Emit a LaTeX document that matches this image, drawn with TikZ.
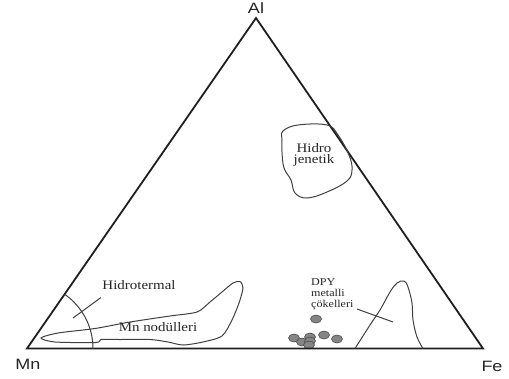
\documentclass[tikz,border=0pt]{standalone}
\usepackage{fontspec}
\usetikzlibrary{shapes.geometric}
\setmainfont{Liberation Serif}[FakeStretch=1.15]
\newfontfamily\vsans{Liberation Sans}[FakeStretch=1.2]
\begin{document}
\begin{tikzpicture}[x=1pt,y=-1pt,
  side/.style={draw=black!88,line width=1.8pt,line join=miter},
  field/.style={draw=black!75,line width=1pt},
  corner/.style={font=\vsans\fontsize{15}{15}\selectfont,text=black!85,inner sep=0pt},
  flabel/.style={font=\fontsize{13}{13}\selectfont,text=black!85,inner sep=0pt},
  dlabel/.style={font=\fontsize{10.5}{11}\selectfont,text=black!85,inner sep=0pt,align=left},
  dot/.style={ellipse,draw=black!70,fill=black!48,line width=0.6pt,minimum width=11pt,minimum height=8pt,inner sep=0pt}]
\useasboundingbox (0,0) rectangle (509,378);
\coordinate (A) at (256,18);
\coordinate (M) at (27,348.5);
\coordinate (F) at (483,348.5);
% dots (under the base line)
\node[dot] (d1) at (316,319) {};
\node[dot] (d2) at (294,338) {};
\node[dot] (d3) at (302,342) {};
\node[dot] (d4) at (310,337) {};
\node[dot] (d5) at (310,341) {};
\node[dot] (d6) at (309,345) {};
\node[dot] (d7) at (324,335) {};
\node[dot] (d8) at (337,339) {};
% triangle
\draw[side] (M) -- (A) -- (F) -- cycle;
\node[corner] (al) at (256,8) {Al};
\node[corner] (mn) at (28,364) {Mn};
\node[corner] (fe) at (492,366) {Fe};
% hydrogenetic field
\draw[field] plot[smooth cycle,tension=0.65] coordinates {
 (283,131) (298,125) (327,125) (338,135) (349,155) (352,170) (347,181)
 (327,192) (307,198) (295,193) (291,180) (284,168) (282,152) (282,140)};
\node[flabel,align=center] (hj) at (314,155) {Hidro\\[-1.5pt]jenetik};
% hydrothermal arc
\draw[field] (M) ++(66,0) arc[start angle=0,end angle=-55.2,radius=66];
\node[flabel] (ht) at (139,285) {Hidrotermal};
\coordinate (htend) at (73,318);
\draw[field] (101,297.5) -- (htend);
% Mn nodules field
\draw[field] plot[smooth cycle,tension=0.45] coordinates {
 (41,338) (58,333) (95,328.5) (130,322) (170,316) (197,312) (210,302)
 (222,292) (233,283) (240,281.5) (243,288) (239,303) (232,320) (222,336)
 (203,342) (183,345) (168,342) (150,339.5) (120,339.5) (101,339.5) (96,342.5) (55,342)};
\node[flabel] (mnn) at (158,327) {Mn nodülleri};
% DPY field
\draw[field] plot[smooth,tension=0.6] coordinates {
 (355,348.5) (370,325) (380,310) (390,292) (397,283) (404,281) (408,287)
 (412,303) (413,320) (417,337) (423,348.5)};
\node[dlabel,anchor=north west] (dpy) at (311,278) {DPY\\metalli\\çökelleri};
\coordinate (dpyend) at (393,322);
\draw[field] (357,309) -- (dpyend);
\end{tikzpicture}
\end{document}
